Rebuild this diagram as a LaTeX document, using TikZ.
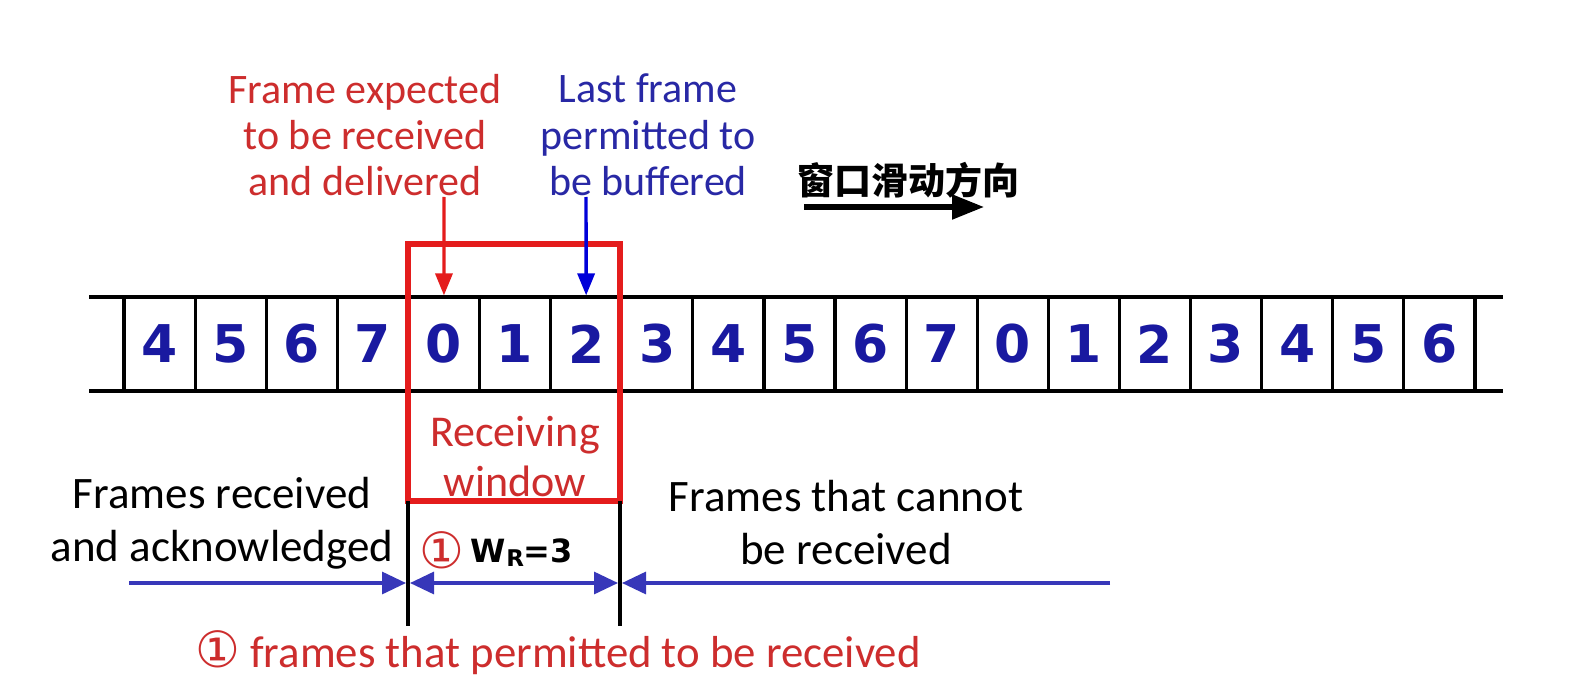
\documentclass[tikz,border=0pt]{standalone}
\usepackage{fontspec}
\setmainfont{Carlito}
\newfontfamily\digitfont{DejaVu Sans}
\newfontfamily\symfont{DejaVu Sans}
\newfontfamily\cjkfont{Noto Sans CJK SC}
\usetikzlibrary{arrows.meta}
\definecolor{boxred}{RGB}{228,28,28}
\definecolor{txtred}{RGB}{205,45,45}
\definecolor{txtblue}{RGB}{40,40,165}
\definecolor{digblue}{RGB}{25,25,160}
\definecolor{lineblue}{RGB}{55,55,185}
\tikzset{
  cell/.style={draw=black, line width=1.6pt, minimum width=35.55pt, minimum height=47pt, inner sep=0pt,
    text=digblue, font=\digitfont\bfseries\fontsize{26}{30}\selectfont},
  rail/.style={line width=2.2pt, black},
  winbox/.style={draw=boxred, line width=2.6pt, minimum width=106pt, minimum height=128.5pt, inner sep=0pt, outer sep=0pt},
  toplbl/.style={align=center, font=\fontsize{21}{23.2}\selectfont, inner sep=0pt},
  midlbl/.style={align=center, font=\fontsize{22.5}{26.5}\selectfont, inner sep=0pt},
  vline/.style={line width=1.8pt, black},
  redarrow/.style={line width=1.7pt, boxred, -{Triangle[length=11pt,width=8.5pt]}},
  bluearrow/.style={line width=1.7pt, blue!85!black, -{Triangle[length=11pt,width=8.5pt]}},
  hblue/.style={line width=1.6pt, lineblue, -{Triangle[length=12pt,width=11pt]}},
  hblueboth/.style={line width=1.6pt, lineblue, {Triangle[length=12pt,width=11pt]}-{Triangle[length=12pt,width=11pt]}},
  bigarrow/.style={line width=2.6pt, black, -{Triangle[length=16pt,width=12pt]}},
}
\begin{document}
\begin{tikzpicture}[x=0.5pt,y=-0.5pt]
\useasboundingbox (0,0) rectangle (1582,684);
\fill[white] (0,0) rectangle (1582,684);
% cells
\foreach \d [count=\i] in {4,5,6,7,0,1,2,3,4,5,6,7,0,1,2,3,4,5,6}
  \node[cell] (c\i) at ({124+(\i-0.5)*71.1},344) {\d};
% rails
\coordinate (rtl) at (89,297); \coordinate (rtr) at (1503,297);
\coordinate (rbl) at (89,391); \coordinate (rbr) at (1503,391);
\draw[rail] (rtl) -- (rtr);
\draw[rail] (rbl) -- (rbr);
% window box
\node[winbox] (win) at (514,372.5) {};
\node[midlbl, text=txtred, font=\fontsize{22}{25}\selectfont] (wlbl) at (515,457) {Receiving\\window};
% vertical black lines
\coordinate (wlb) at (408,626); \coordinate (wrb) at (620,626);
\draw[vline] (win.south west) -- (wlb);
\draw[vline] (win.south east) -- (wrb);
% top labels
\node[toplbl, text=txtred] (lblA) at (365,135) {Frame expected\\to be received\\and delivered};
\node[toplbl, text=txtblue] (lblB) at (648,135) {Last frame\\permitted to\\be buffered};
\coordinate (aA) at (444,197); \coordinate (aB) at (586,197);
\draw[redarrow] (aA) -- (c5.north);
\draw[bluearrow] (aB) -- (c7.north);
% chinese + direction arrow
\node[inner sep=0pt, font=\cjkfont\bfseries\fontsize{18.5}{20}\selectfont] (cn) at (908,180) {窗口滑动方向};
\coordinate (ds) at (804,207); \coordinate (de) at (984,207);
\draw[bigarrow] (ds) -- (de);
% side labels
\node[midlbl] (lblL) at (222,523) {Frames received\\and acknowledged};
\node[midlbl] (lblR) at (846,523) {Frames that cannot\\be received};
% W_R
\node[inner sep=0pt, text=txtred, font=\symfont\fontsize{25}{26}\selectfont] (circ) at (442,550) {①};
\node[inner sep=0pt, font=\digitfont\bfseries\fontsize{16}{17}\selectfont] (wr) at (522,553) {W\raisebox{-0.12em}{\fontsize{11.5}{12}\selectfont R}=3};
% blue horizontal arrows
\coordinate (hl1) at (129,583); \coordinate (hl2) at (406,583);
\coordinate (hm1) at (410,583); \coordinate (hm2) at (618,583);
\coordinate (hr1) at (1110,583); \coordinate (hr2) at (622,583);
\draw[hblue] (hl1) -- (hl2);
\draw[hblueboth] (hm1) -- (hm2);
\draw[hblue] (hr1) -- (hr2);
% bottom label
\node[inner sep=0pt, text=txtred, font=\fontsize{22.4}{25}\selectfont] (bot) at (558,653) {{\symfont\fontsize{25}{25}\selectfont ①} frames that permitted to be received};
\end{tikzpicture}
\end{document}
